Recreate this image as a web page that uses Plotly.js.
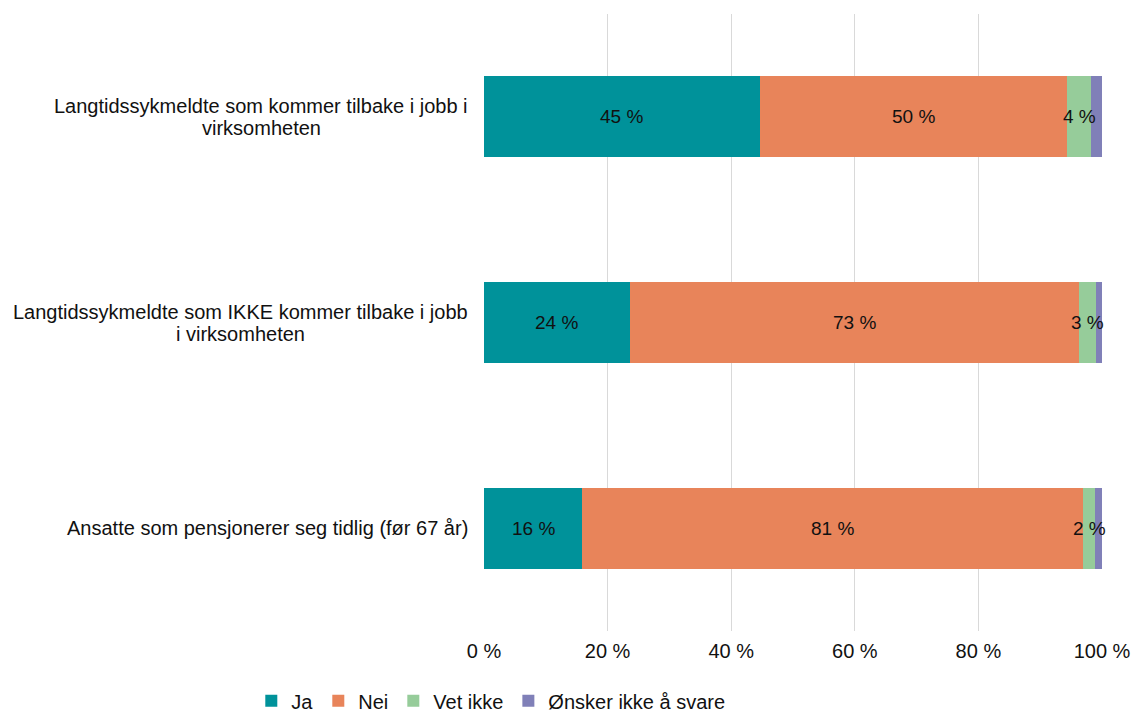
<!DOCTYPE html>
<html><head><meta charset="utf-8">
<script src="https://cdn.plot.ly/plotly-3.0.1.min.js"></script>
<style>html,body{margin:0;padding:0;background:#fff}#chart{width:1132px;height:713px}</style>
</head><body><div id="chart"></div>
<script>
const categories = [
  "Langtidssykmeldte som kommer tilbake i jobb i<br>virksomheten",
  "Langtidssykmeldte som IKKE kommer tilbake i jobb<br>i virksomheten",
  "Ansatte som pensjonerer seg tidlig (før 67 år)"
];
const seriesNames = ["Ja", "Nei", "Vet ikke", "Ønsker ikke å svare"];
const ja      = [44.6, 23.6, 15.9];
const nei     = [49.8, 72.7, 81.0];
const vetIkke = [3.8, 2.7, 2.0];
const onsker  = [1.8, 1.0, 1.1];
const seriesValues = [ja, nei, vetIkke, onsker];
const showLabels = [true, true, true, false];
const tickVals = [0, 20, 40, 60, 80, 100];
const tickText = ["0 %", "20 %", "40 %", "60 %", "80 %", "100 %"];

const colors = ["#00929a", "#e8845a", "#96cc9a", "#8080b8"];
const FONT = "Liberation Sans, Arial, Helvetica, sans-serif";
const CAT_SIZE = 20;
const idx = categories.map((c, i) => i);

const traces = seriesNames.map((name, s) => ({
  type: "bar",
  orientation: "h",
  name: name,
  x: seriesValues[s],
  y: idx,
  marker: {color: colors[s], line: {width: 0}},
  hoverinfo: "x+name"
}));

const annotations = [];
// data labels
idx.forEach(i => {
  let cum = 0;
  seriesValues.forEach((vals, s) => {
    const v = vals[i];
    if (showLabels[s]) {
      annotations.push({
        x: cum + v / 2, y: i, xref: "x", yref: "y",
        text: Math.round(v) + " %", showarrow: false,
        font: {family: FONT, size: 19, color: "#111"}
      });
    }
    cum += v;
  });
});
// category labels: centered block, right edge 16px left of the plot
const ctx = document.createElement("canvas").getContext("2d");
ctx.font = CAT_SIZE + "px 'Liberation Sans'";
const lineH = 22;
categories.forEach((c, i) => {
  const lines = c.split("<br>");
  const maxW = Math.max(...lines.map(ln => ctx.measureText(ln).width));
  lines.forEach((ln, k) => {
    annotations.push({
      x: 0, xref: "paper", y: i, yref: "y",
      xanchor: "center", xshift: -16 - maxW / 2,
      yshift: ((lines.length - 1) / 2 - k) * lineH,
      text: ln, showarrow: false,
      font: {family: FONT, size: CAT_SIZE, color: "#111"}
    });
  });
});

const layout = {
  width: 1132, height: 713,
  margin: {l: 484, r: 30, t: 14, b: 82, pad: 0, autoexpand: false},
  barmode: "stack",
  bargap: 0.605,
  paper_bgcolor: "#fff", plot_bgcolor: "#fff",
  font: {family: FONT, size: 20, color: "#111"},
  showlegend: true,
  legend: {
    orientation: "h", x: 0.011, xanchor: "center",
    y: -0.113, yanchor: "middle",
    font: {family: FONT, size: 20, color: "#111"},
    traceorder: "normal"
  },
  xaxis: {
    range: [0, 100], tickvals: tickVals, ticktext: tickText,
    showgrid: true, gridcolor: "#d9d9d9", gridwidth: 1,
    zeroline: false, showline: false, ticks: "",
    ticklabelstandoff: 6,
    tickfont: {family: FONT, size: 20, color: "#111"},
    fixedrange: true
  },
  yaxis: {
    type: "linear", range: [2.5, -0.5],
    showticklabels: false, showgrid: false, zeroline: false, showline: false, ticks: "",
    fixedrange: true
  },
  annotations: annotations
};

Plotly.newPlot("chart", traces, layout, {displayModeBar: false});
</script>
</body></html>
